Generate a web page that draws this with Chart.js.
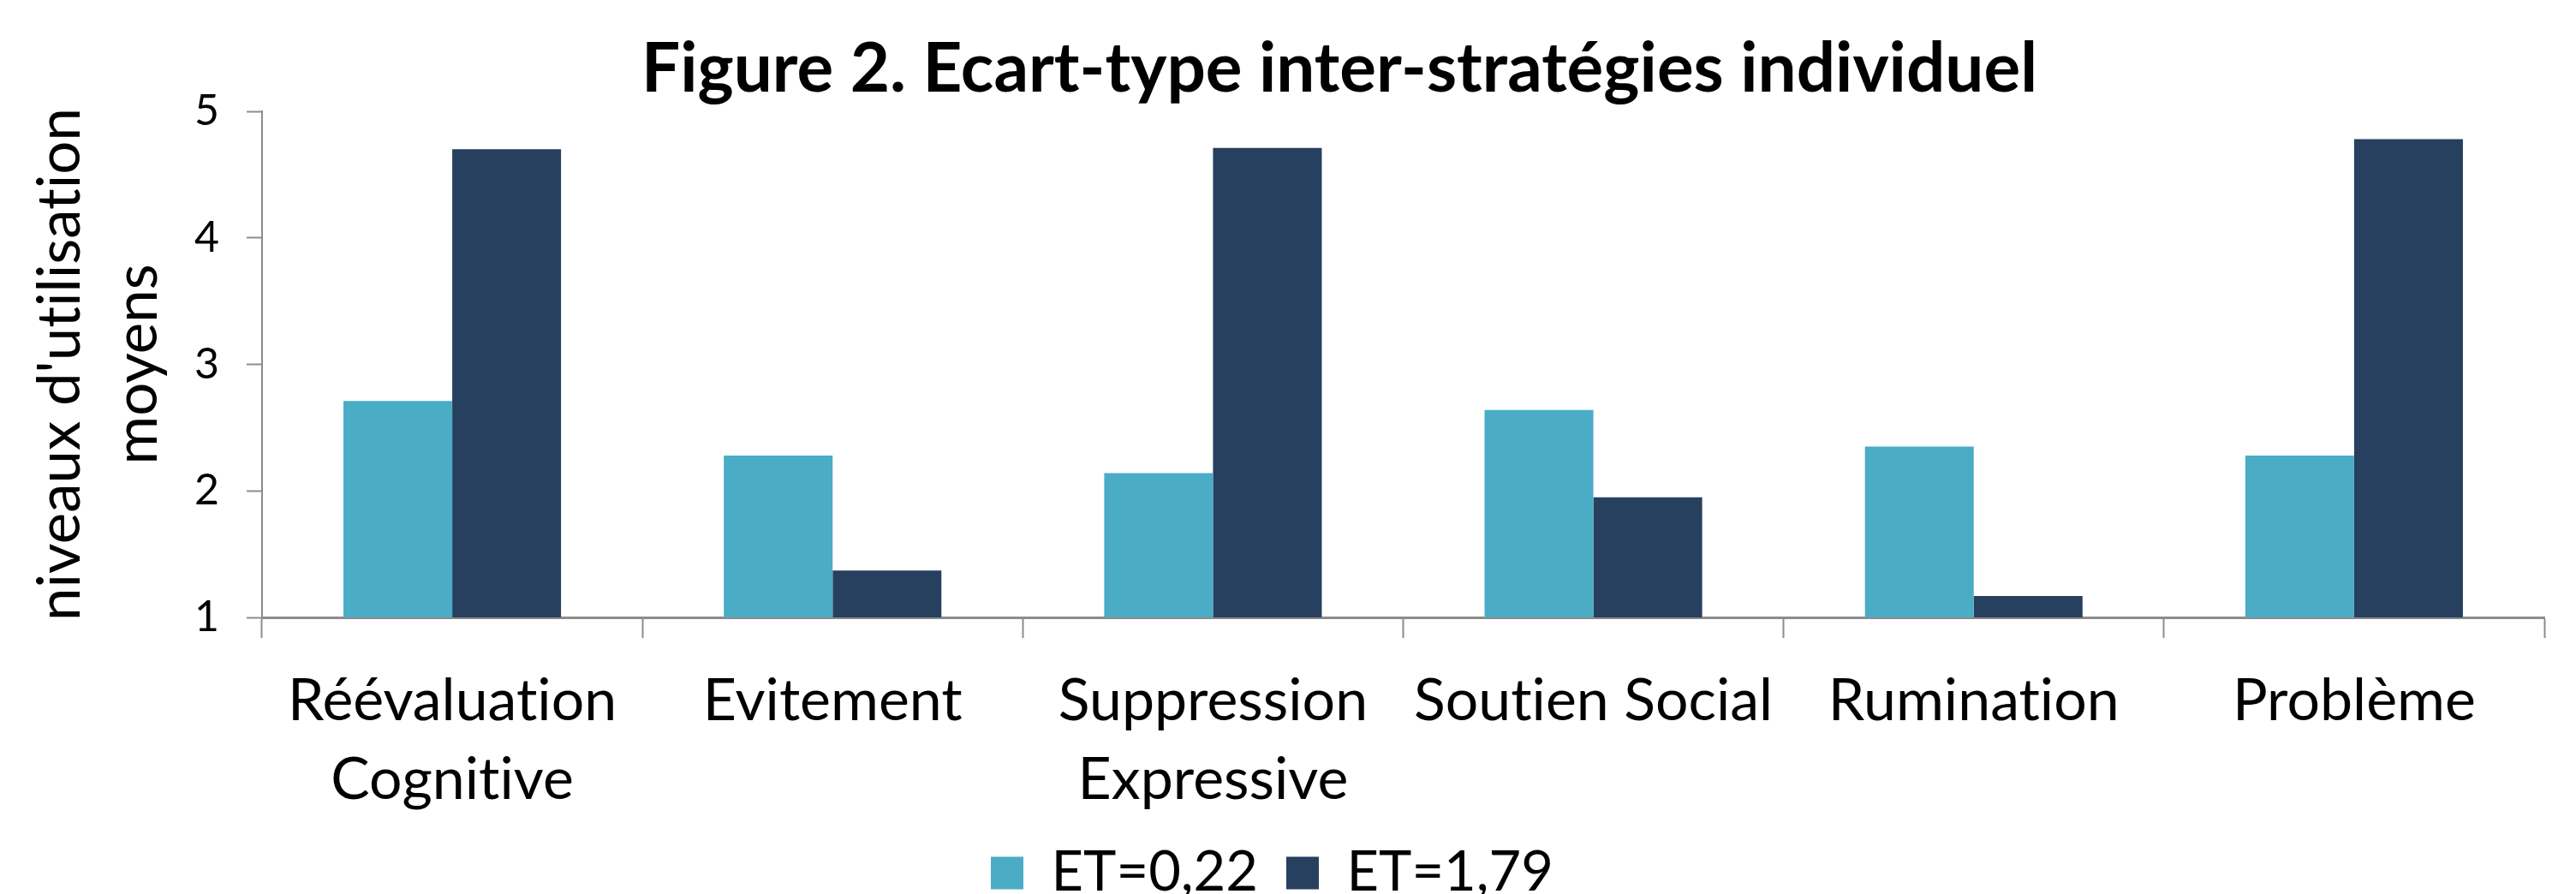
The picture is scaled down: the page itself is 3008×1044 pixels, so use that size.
<!DOCTYPE html>
<html lang="fr">
<head>
<meta charset="utf-8">
<title>Ecart-type inter-stratégies individuel</title>
<script src="https://cdn.jsdelivr.net/npm/chart.js@4.4.1/dist/chart.umd.min.js"></script>
<style>
    html, body { margin: 0; padding: 0; background: #fff; overflow: hidden; }
    canvas { display: block; }
</style>
</head>
<body>
<canvas id="grafico-ecart" width="3008" height="1062"></canvas>
<script>
// Données de la figure 2 : niveaux d'utilisation moyens par stratégie.
const TITRE = 'Figure 2. Ecart-type inter-stratégies individuel';
const TITRE_AXE_Y = ["niveaux d'utilisation", 'moyens'];
const STRATEGIES = [
    ['Réévaluation', 'Cognitive'],
    'Evitement',
    ['Suppression', 'Expressive'],
    'Soutien Social',
    'Rumination',
    'Problème',
];
const SERIES = ['ET=0,22', 'ET=1,79'];
const ET_022 = [2.71, 2.28, 2.14, 2.64, 2.35, 2.28];
const ET_179 = [4.70, 1.37, 4.71, 1.95, 1.17, 4.78];
const GRADUATIONS = [1, 2, 3, 4, 5];

const COULEURS = {
    cyan: '#4bacc6',
    marine: '#27405f',
    axe: '#8c8c8c',
    texte: '#000000',
};

const POLICE = 'Lato, "Open Sans", sans-serif';
Chart.defaults.font.family = POLICE;
Chart.defaults.color = COULEURS.texte;

// Pas de ligature « ti » dans les libellés.
const sansLigatures = {
    id: 'sansLigatures',
    beforeDraw(chart) {
        chart.ctx.textRendering = 'optimizeSpeed';
    },
};

// Titre dessiné à la main pour pouvoir le décaler un peu vers la droite.
const titreFigure = {
    id: 'titreFigure',
    afterDraw(chart) {
        const { ctx } = chart;
        ctx.save();
        ctx.font = `bold 80px ${POLICE}`;
        ctx.fillStyle = COULEURS.texte;
        ctx.textAlign = 'center';
        ctx.textBaseline = 'alphabetic';
        ctx.fillText(TITRE, 1564, 107);
        ctx.restore();
    },
};

new Chart(document.getElementById('grafico-ecart'), {
    type: 'bar',
    data: {
        labels: STRATEGIES,
        datasets: [
            {
                label: SERIES[0],
                data: ET_022,
                backgroundColor: COULEURS.cyan,
                borderWidth: 0,
            },
            {
                label: SERIES[1],
                data: ET_179,
                backgroundColor: COULEURS.marine,
                borderWidth: 0,
            },
        ],
    },
    options: {
        responsive: false,
        animation: false,
        layout: { padding: { top: 130, right: 37, left: 0, bottom: 0 } },
        datasets: {
            // Barres accolées, environ 57 % de la largeur de chaque catégorie.
            bar: { categoryPercentage: 0.572, barPercentage: 1 },
        },
        scales: {
            x: {
                grid: {
                    drawOnChartArea: false,
                    drawTicks: true,
                    tickLength: 24,
                    tickWidth: 2,
                    tickColor: COULEURS.axe,
                    offset: true,
                },
                border: { color: COULEURS.axe, width: 3 },
                ticks: {
                    font: { size: 68, lineHeight: 1.35 },
                    padding: 28,
                    maxRotation: 0,
                    autoSkip: false,
                },
                // Assez haut pour les libellés sur deux lignes.
                afterFit: (axe) => { axe.height = 233; },
            },
            y: {
                min: 1,
                max: 5,
                afterBuildTicks: (axe) => {
                    axe.ticks = GRADUATIONS.map((v) => ({ value: v }));
                },
                grid: {
                    drawOnChartArea: false,
                    drawTicks: true,
                    tickLength: 18,
                    tickWidth: 2,
                    tickColor: COULEURS.axe,
                },
                border: { color: COULEURS.axe, width: 2 },
                ticks: {
                    font: { size: 50 },
                    padding: 32,
                },
                title: {
                    display: true,
                    text: TITRE_AXE_Y,
                    font: { size: 69, lineHeight: 1.3 },
                    padding: { top: 26, bottom: 0 },
                },
                afterFit: (axe) => { axe.width = 306; },
            },
        },
        plugins: {
            legend: {
                position: 'bottom',
                labels: {
                    boxWidth: 38,
                    boxHeight: 38,
                    padding: 33,
                    font: { size: 65 },
                    color: COULEURS.texte,
                },
            },
            tooltip: { enabled: false },
        },
    },
    plugins: [sansLigatures, titreFigure],
});
</script>
</body>
</html>
